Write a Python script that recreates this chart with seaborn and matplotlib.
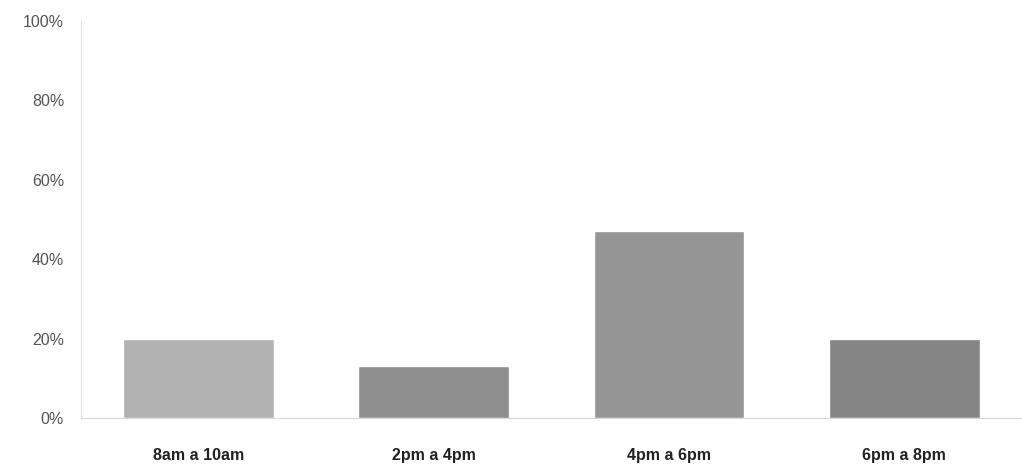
import matplotlib
matplotlib.use("Agg")
import matplotlib.pyplot as plt
import seaborn as sns
import pandas as pd
from matplotlib.ticker import PercentFormatter

# Data
franjas = ["8am a 10am", "2pm a 4pm", "4pm a 6pm", "6pm a 8pm"]
porcentajes = [20, 13, 47, 20]
colores = ["#b2b2b2", "#8e8e8e", "#959595", "#858585"]

df = pd.DataFrame({"franja": franjas, "pct": porcentajes})

sns.set_style("white")
plt.rcParams["font.family"] = ["Liberation Sans", "DejaVu Sans"]

fig = plt.figure(figsize=(10.22, 4.69), dpi=100)
ax = fig.add_axes([0.079, 0.109, 0.921, 0.846])

sns.barplot(data=df, x="franja", y="pct", hue="franja", palette=colores,
            width=0.64, legend=False, ax=ax, saturation=1)

ax.set_ylim(0, 100)
ax.set_yticks([0, 20, 40, 60, 80, 100])
ax.yaxis.set_major_formatter(PercentFormatter(decimals=0))
ax.set_xlim(-0.5, 3.5)
ax.set_xlabel("")
ax.set_ylabel("")

ax.tick_params(axis="y", labelsize=11.5, labelcolor="#555555", length=0, pad=12)
ax.tick_params(axis="x", labelsize=11.5, labelcolor="#222222", length=0, pad=22)
for lbl in ax.get_xticklabels():
    lbl.set_fontweight("bold")

for side in ["top", "right"]:
    ax.spines[side].set_visible(False)
ax.spines["left"].set_color("#e2e2e2")
ax.spines["bottom"].set_color("#d8d8d8")

fig.savefig("out.png", dpi=100)
